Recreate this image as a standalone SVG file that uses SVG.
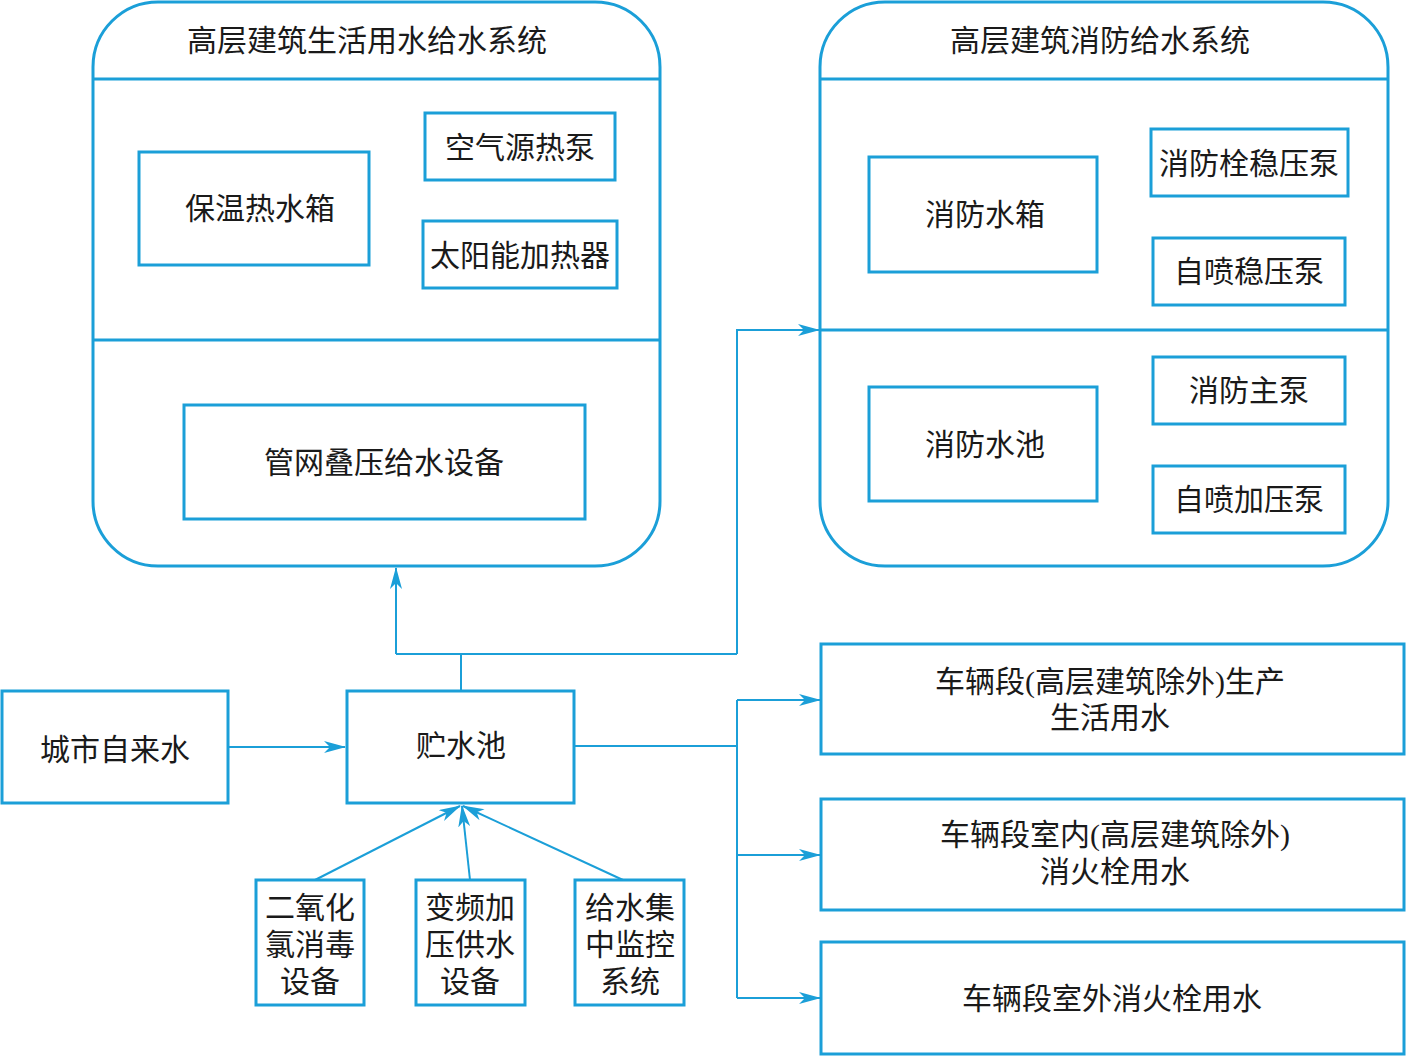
<svg xmlns="http://www.w3.org/2000/svg" width="1406" height="1057" viewBox="0 0 1406 1057">
<style>
.b{fill:none;stroke:#1b9fd8;stroke-width:3}
.c{fill:none;stroke:#1b9fd8;stroke-width:2}
text{font-family:"Liberation Serif","Noto Sans CJK SC",serif;font-size:30px;fill:#1a1a1a;text-anchor:middle;dominant-baseline:central}
</style>
<defs>
<marker id="a" markerWidth="22" markerHeight="12" refX="21" refY="6" orient="auto" markerUnits="userSpaceOnUse">
<path d="M0,0 L22,6 L0,12 L6,6 Z" fill="#1b9fd8"/>
</marker>
</defs>
<rect width="1406" height="1057" fill="#fff"/>
<g id="sys-life">
<rect class="b" x="93" y="2" width="567" height="564" rx="65" ry="65"/>
<line class="b" x1="93" y1="79" x2="660" y2="79"/>
<line class="b" x1="93" y1="340" x2="660" y2="340"/>
<text x="367" y="40">高层建筑生活用水给水系统</text>
</g>
<g id="n-baowen"><rect class="b" x="139" y="152" width="230" height="113"/><text x="260" y="208">保温热水箱</text></g>
<g id="n-kongqi"><rect class="b" x="425" y="113" width="190" height="67"/><text x="520" y="147">空气源热泵</text></g>
<g id="n-taiyang"><rect class="b" x="423" y="221" width="194" height="67"/><text x="520" y="255">太阳能加热器</text></g>
<g id="n-guanwang"><rect class="b" x="184" y="405" width="401" height="114"/><text x="384" y="462">管网叠压给水设备</text></g>
<g id="sys-fire">
<rect class="b" x="820" y="2" width="568" height="564" rx="65" ry="65"/>
<line class="b" x1="820" y1="79" x2="1388" y2="79"/>
<line class="b" x1="820" y1="330" x2="1388" y2="330"/>
<text x="1100" y="40">高层建筑消防给水系统</text>
</g>
<g id="n-xfsx"><rect class="b" x="869" y="157" width="228" height="115"/><text x="985" y="214">消防水箱</text></g>
<g id="n-xfswy"><rect class="b" x="1151" y="129" width="197" height="67"/><text x="1249" y="163">消防栓稳压泵</text></g>
<g id="n-zpwy"><rect class="b" x="1153" y="238" width="192" height="67"/><text x="1249" y="271">自喷稳压泵</text></g>
<g id="n-xfsc"><rect class="b" x="869" y="387" width="228" height="114"/><text x="985" y="444">消防水池</text></g>
<g id="n-xfzb"><rect class="b" x="1153" y="357" width="192" height="67"/><text x="1249" y="390">消防主泵</text></g>
<g id="n-zpjy"><rect class="b" x="1153" y="466" width="192" height="67"/><text x="1249" y="499">自喷加压泵</text></g>
<g id="n-city"><rect class="b" x="2" y="691" width="226" height="112"/><text x="115" y="749">城市自来水</text></g>
<g id="n-pool"><rect class="b" x="347" y="691" width="227" height="112"/><text x="461" y="745">贮水池</text></g>
<g id="n-clo2"><rect class="b" x="256" y="880" width="108" height="125"/><text x="310" y="907">二氧化</text><text x="310" y="944">氯消毒</text><text x="310" y="981">设备</text></g>
<g id="n-bianpin"><rect class="b" x="416" y="880" width="109" height="125"/><text x="470" y="907">变频加</text><text x="470" y="944">压供水</text><text x="470" y="981">设备</text></g>
<g id="n-jiankong"><rect class="b" x="575" y="880" width="109" height="125"/><text x="630" y="907">给水集</text><text x="630" y="944">中监控</text><text x="630" y="981">系统</text></g>
<g id="n-use1"><rect class="b" x="821" y="644" width="583" height="110"/><text x="1110" y="681">车辆段(高层建筑除外)生产</text><text x="1110" y="717">生活用水</text></g>
<g id="n-use2"><rect class="b" x="821" y="799" width="583" height="111"/><text x="1115" y="834">车辆段室内(高层建筑除外)</text><text x="1115" y="871">消火栓用水</text></g>
<g id="n-use3"><rect class="b" x="821" y="942" width="583" height="112"/><text x="1112" y="998">车辆段室外消火栓用水</text></g>
<g id="connectors">
<line class="c" x1="228" y1="747" x2="345" y2="747" marker-end="url(#a)"/>
<polyline class="c" points="461,691 461,654"/>
<polyline class="c" points="396,654 737,654"/>
<polyline class="c" points="396,654 396,568" marker-end="url(#a)"/>
<polyline class="c" points="737,654 737,330 819,330" marker-end="url(#a)"/>
<polyline class="c" points="574,746 737,746"/>
<polyline class="c" points="737,700 737,998"/>
<polyline class="c" points="737,700 820,700" marker-end="url(#a)"/>
<polyline class="c" points="737,855 820,855" marker-end="url(#a)"/>
<polyline class="c" points="737,998 820,998" marker-end="url(#a)"/>
<line class="c" x1="315" y1="880" x2="460" y2="806" marker-end="url(#a)"/>
<line class="c" x1="470" y1="880" x2="462" y2="806" marker-end="url(#a)"/>
<line class="c" x1="623" y1="880" x2="463" y2="806" marker-end="url(#a)"/>
</g>
</svg>
